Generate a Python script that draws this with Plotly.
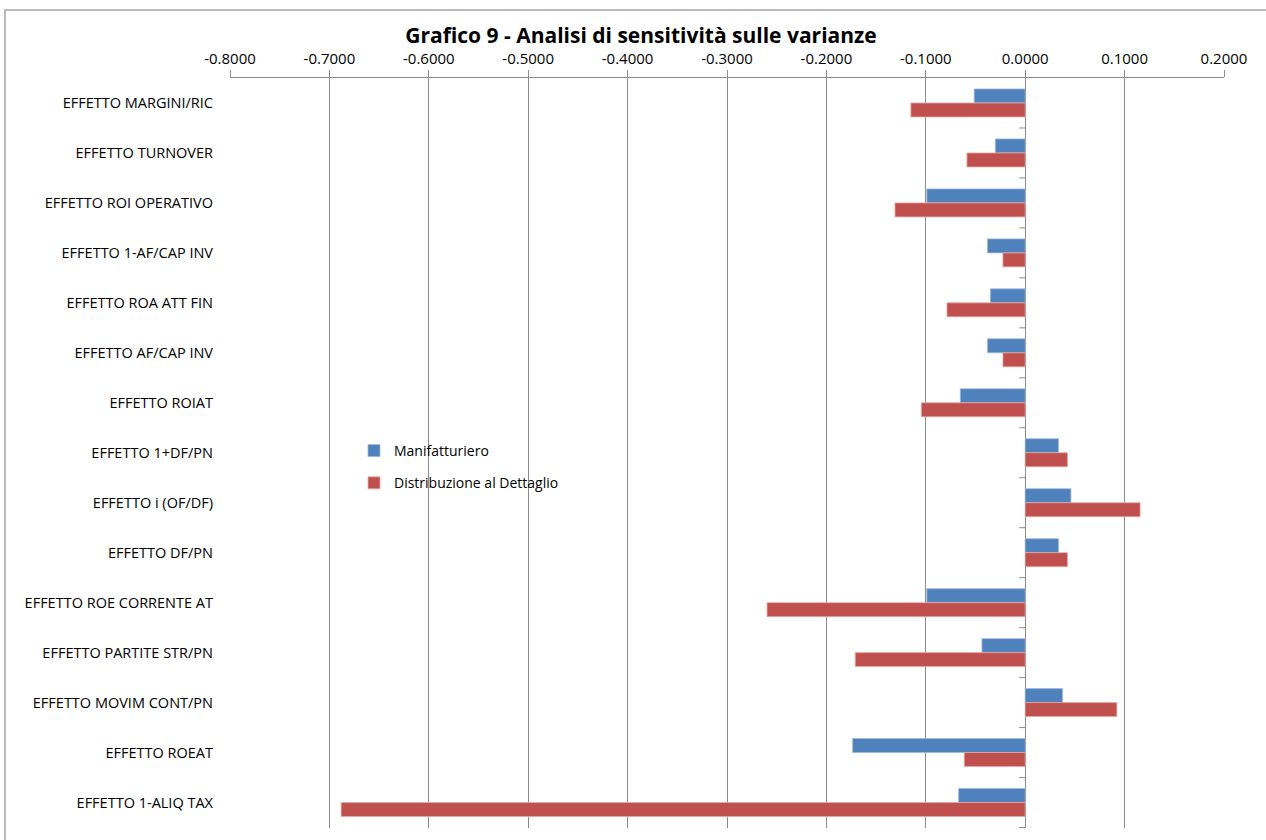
import plotly.graph_objects as go

categories = [
    "EFFETTO MARGINI/RIC",
    "EFFETTO TURNOVER",
    "EFFETTO ROI OPERATIVO",
    "EFFETTO 1-AF/CAP INV",
    "EFFETTO ROA ATT FIN",
    "EFFETTO AF/CAP INV",
    "EFFETTO ROIAT",
    "EFFETTO 1+DF/PN",
    "EFFETTO i (OF/DF)",
    "EFFETTO DF/PN",
    "EFFETTO ROE CORRENTE AT",
    "EFFETTO PARTITE STR/PN",
    "EFFETTO MOVIM CONT/PN",
    "EFFETTO ROEAT",
    "EFFETTO 1-ALIQ TAX",
]

manifatturiero = [-0.0513, -0.0300, -0.0990, -0.0380, -0.0350, -0.0380, -0.0653,
                  0.0335, 0.0460, 0.0335, -0.0990, -0.0435, 0.0375, -0.1736, -0.0670]
distribuzione = [-0.1150, -0.0586, -0.1310, -0.0224, -0.0787, -0.0224, -0.1045,
                 0.0425, 0.1156, 0.0425, -0.2597, -0.1710, 0.0922, -0.0613, -0.6882]

tick_vals = [-0.8, -0.7, -0.6, -0.5, -0.4, -0.3, -0.2, -0.1, 0.0, 0.1, 0.2]
tick_text = ["%.4f" % v for v in tick_vals]

BLUE = "#4F81BD"
RED = "#C0504D"
GRID = "#8C8C8C"
FONT = "Open Sans"

L, R, T, B = 230, 1224, 78, 828
PW, PH = R - L, B - T

fig = go.Figure()
fig.add_trace(go.Bar(
    y=categories, x=manifatturiero, orientation="h", name="Manifatturiero",
    marker=dict(color=BLUE, line=dict(color="#9DB9DC", width=0.8)),
    legendgroup="a",
))
fig.add_trace(go.Bar(
    y=categories, x=distribuzione, orientation="h", name="Distribuzione al Dettaglio",
    marker=dict(color=RED, line=dict(color="#E3A9A7", width=0.8)),
    legendgroup="b",
))

# small tick marks on the vertical axis at category boundaries (at x = 0)
shapes = []
for i in range(len(categories)):
    shapes.append(dict(type="line", xref="x", yref="y",
                       x0=-0.006, x1=0, y0=i + 0.5, y1=i + 0.5,
                       line=dict(color=GRID, width=1)))
# outer chart frame
shapes.append(dict(type="rect", xref="paper", yref="paper",
                   x0=(5 - L) / PW, x1=(1280 - L) / PW,
                   y0=-0.1, y1=1 + (T - 10) / PH,
                   line=dict(color="#A6A6A6", width=1.5), fillcolor="rgba(0,0,0,0)",
                   layer="below"))

fig.update_layout(
    width=1266, height=840,
    margin=dict(l=L, r=1266 - R, t=T, b=840 - B, autoexpand=False),
    paper_bgcolor="white", plot_bgcolor="white",
    barmode="group", bargap=0.44, bargroupgap=0,
    font=dict(family=FONT, size=12, color="#000000"),
    title=dict(text="<b>Grafico 9 - Analisi di sensitività sulle varianze</b>",
               x=641 / 1266, xanchor="center", y=1 - 36 / 840, yanchor="middle",
               font=dict(family=FONT, size=21, color="#000000")),
    xaxis=dict(
        side="top", range=[-0.8, 0.2], tickvals=tick_vals, ticktext=tick_text,
        showgrid=True, gridcolor=GRID, gridwidth=1,
        showline=True, linecolor=GRID, linewidth=1,
        ticks="outside", ticklen=7, tickcolor=GRID,
        ticklabelstandoff=0,
        zeroline=True, zerolinecolor=GRID, zerolinewidth=1,
        tickfont=dict(family=FONT, size=15, color="#000000"),
        automargin=False, fixedrange=True,
    ),
    yaxis=dict(
        autorange="reversed", showgrid=False, showline=False, ticks="",
        ticklabelstandoff=16,
        tickfont=dict(family=FONT, size=14.5, color="#000000"),
        automargin=False, fixedrange=True,
    ),
    legend=dict(x=(354 - L) / PW, y=1 - (435 - T) / PH, xanchor="left", yanchor="top",
                bgcolor="rgba(0,0,0,0)", font=dict(family=FONT, size=14, color="#000000"),
                tracegroupgap=11, itemwidth=30),
    showlegend=True,
    shapes=shapes,
)

fig.write_html("out.html", config={"displayModeBar": False},
               post_script="document.body.style.margin='0';")
